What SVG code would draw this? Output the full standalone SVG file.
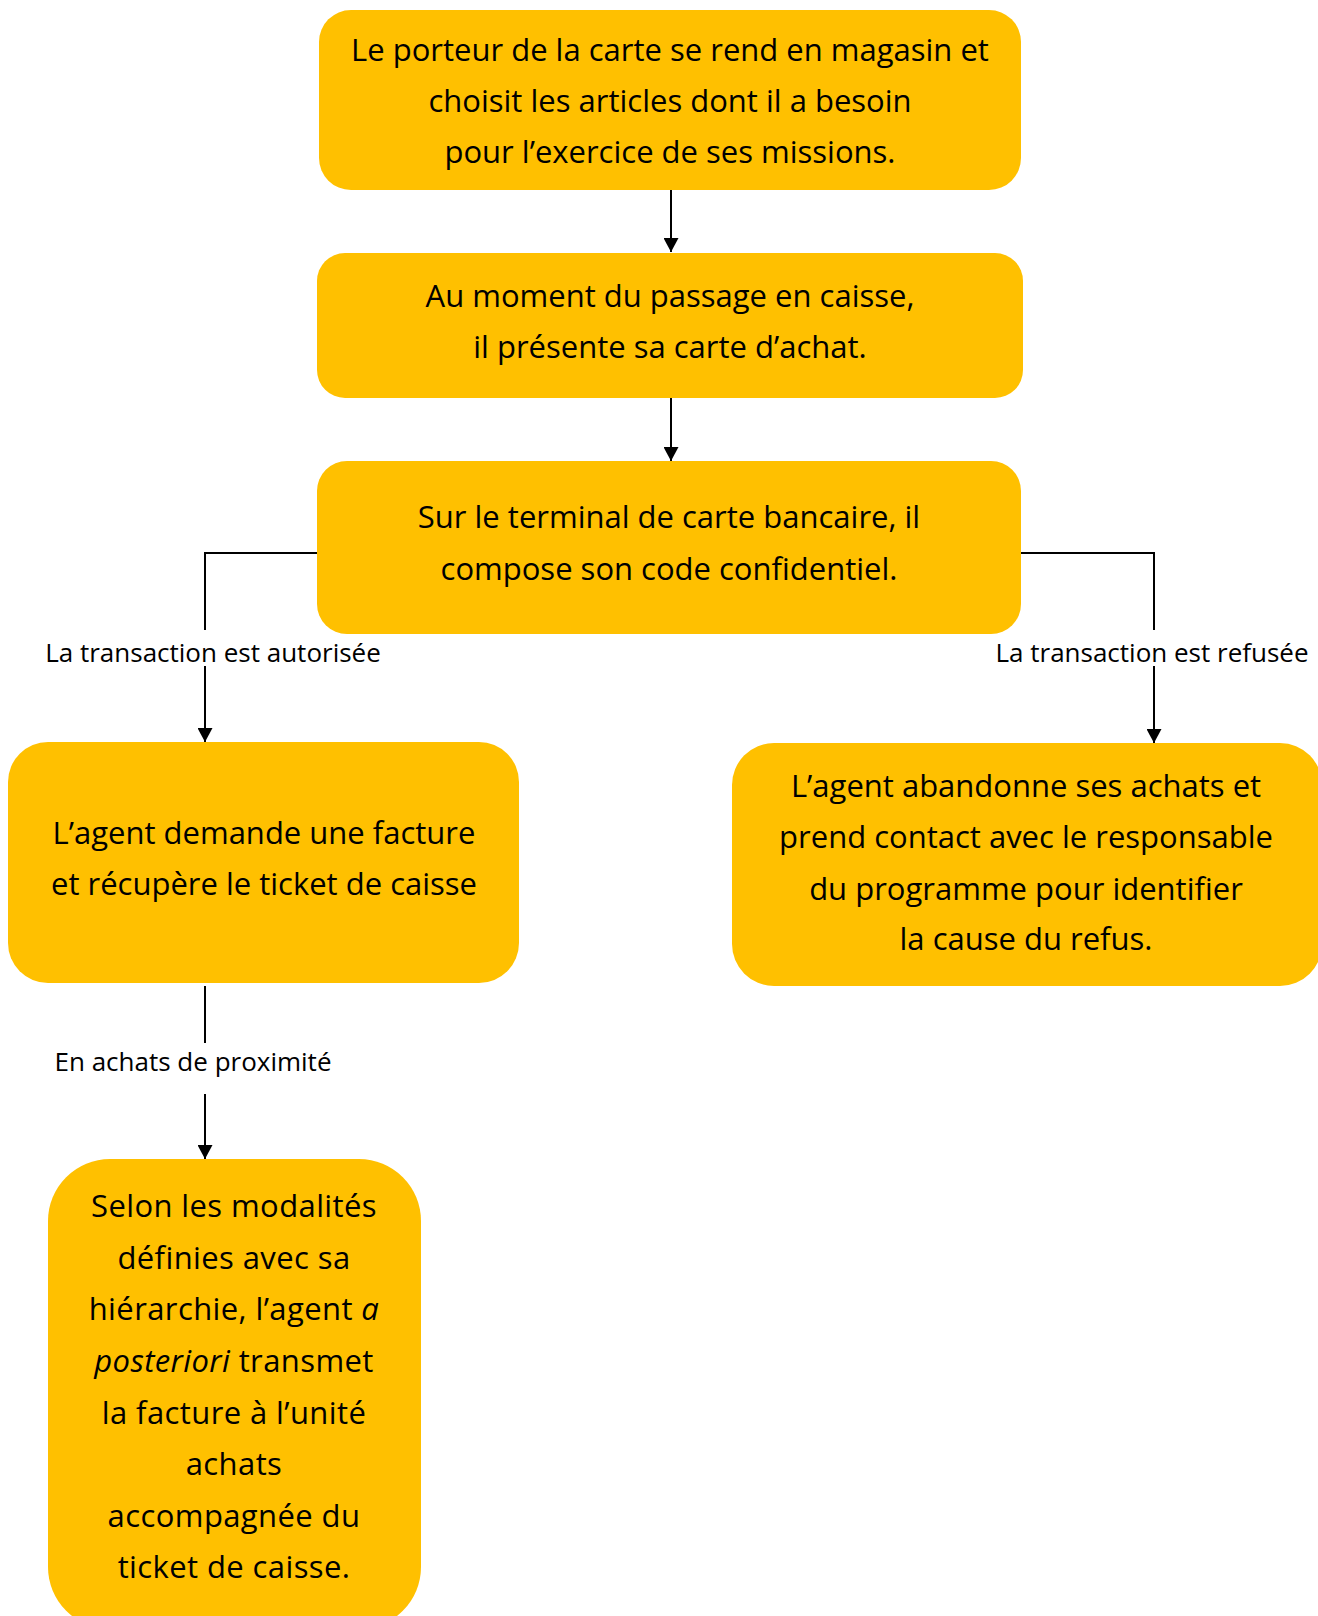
<svg xmlns="http://www.w3.org/2000/svg" width="1318" height="1616" viewBox="0 0 1318 1616">
<defs>
<style>
.box{fill:#FFC000;}
.t{font-family:"Open Sans","Liberation Sans",sans-serif;font-size:31px;font-weight:500;fill:#000;text-anchor:middle;}
.t6{font-family:"Open Sans","Liberation Sans",sans-serif;font-size:31px;letter-spacing:0.4px;fill:#000;text-anchor:middle;}
.lbl{font-family:"Open Sans","Liberation Sans",sans-serif;font-size:26px;fill:#000;text-anchor:middle;}
.lbl2{font-family:"Open Sans","Liberation Sans",sans-serif;font-size:26px;fill:#000;text-anchor:middle;}
.c{fill:none;stroke:#000;stroke-width:2;}
</style>
<marker id="ah" viewBox="0 0 14 15" refX="14" refY="7.5" markerWidth="14" markerHeight="15" markerUnits="userSpaceOnUse" orient="auto">
<path d="M0,0 L14,7.5 L0,15 Z" fill="#000"/>
</marker>
</defs>
<rect width="1318" height="1616" fill="#fff"/>
<g id="connectors">
<path class="c" d="M671,190 V252" marker-end="url(#ah)"/>
<path class="c" d="M671,398 V461" marker-end="url(#ah)"/>
<path class="c" d="M317,553 H205 V630"/>
<path class="c" d="M205,666 V742" marker-end="url(#ah)"/>
<path class="c" d="M1021,553 H1154 V630"/>
<path class="c" d="M1154,666 V743" marker-end="url(#ah)"/>
<path class="c" d="M205,986 V1043"/>
<path class="c" d="M205,1094 V1159" marker-end="url(#ah)"/>
<text class="lbl" x="213" y="662">La transaction est autorisée</text>
<text class="lbl" x="1152" y="662">La transaction est refusée</text>
<text class="lbl2" x="193" y="1071">En achats de proximité</text>
</g>
<g id="n1">
<rect class="box" x="319" y="10" width="702" height="180" rx="32"/>
<text class="t" x="670" y="61">Le porteur de la carte se rend en magasin et</text>
<text class="t" x="670" y="112">choisit les articles dont il a besoin</text>
<text class="t" x="670" y="163">pour l’exercice de ses missions.</text>
</g>
<g id="n2">
<rect class="box" x="317" y="253" width="706" height="145" rx="28"/>
<text class="t" x="670" y="307">Au moment du passage en caisse,</text>
<text class="t" x="670" y="358">il présente sa carte d’achat.</text>
</g>
<g id="n3">
<rect class="box" x="317" y="461" width="704" height="173" rx="30"/>
<text class="t" x="669" y="528">Sur le terminal de carte bancaire, il</text>
<text class="t" x="669" y="580">compose son code confidentiel.</text>
</g>
<g id="n4">
<rect class="box" x="8" y="742" width="511" height="241" rx="40"/>
<text class="t" x="264" y="844">L’agent demande une facture</text>
<text class="t" x="264" y="895">et récupère le ticket de caisse</text>
</g>
<g id="n5">
<rect class="box" x="732" y="743" width="590" height="243" rx="42"/>
<text class="t" x="1026" y="797">L’agent abandonne ses achats et</text>
<text class="t" x="1026" y="848">prend contact avec le responsable</text>
<text class="t" x="1026" y="900">du programme pour identifier</text>
<text class="t" x="1026" y="950">la cause du refus.</text>
</g>
<g id="n6">
<rect class="box" x="48" y="1159" width="373" height="470" rx="62"/>
<text class="t6" x="234" y="1217">Selon les modalités</text>
<text class="t6" x="234" y="1269">définies avec sa</text>
<text class="t6" x="234" y="1320">hiérarchie, l’agent <tspan font-style="italic">a</tspan></text>
<text class="t6" x="234" y="1372"><tspan font-style="italic">posteriori</tspan> transmet</text>
<text class="t6" x="234" y="1424">la facture à l’unité</text>
<text class="t6" x="234" y="1475">achats</text>
<text class="t6" x="234" y="1527">accompagnée du</text>
<text class="t6" x="234" y="1578">ticket de caisse.</text>
</g>
</svg>
